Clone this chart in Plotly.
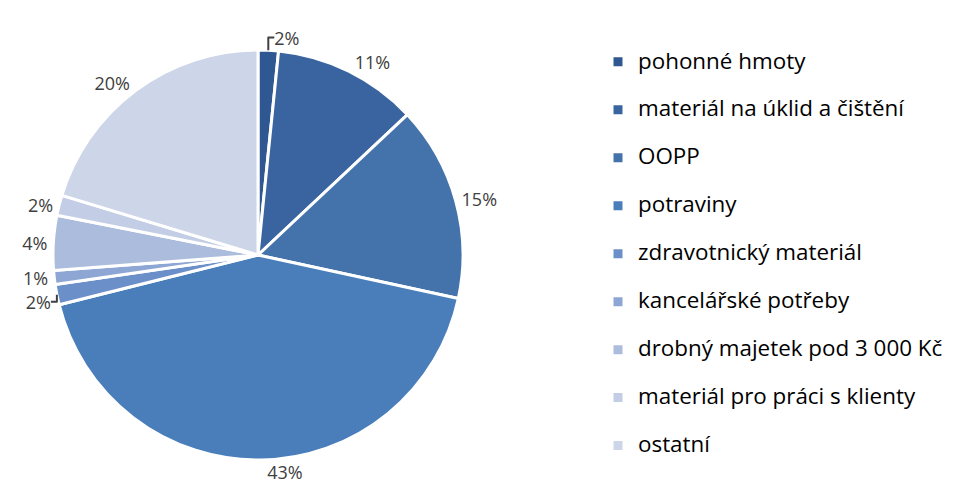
import plotly.graph_objects as go

categories = [
    "pohonné hmoty",
    "materiál na úklid a čištění",
    "OOPP",
    "potraviny",
    "zdravotnický materiál",
    "kancelářské potřeby",
    "drobný majetek pod 3 000 Kč",
    "materiál pro práci s klienty",
    "ostatní",
]
values = [1.6, 11.4, 15.4, 42.7, 1.6, 1.1, 4.3, 1.6, 20.3]
colors = ["#2F5791", "#3A64A0", "#4472AA", "#4A7EBB", "#6B8FC8",
          "#8DA6D4", "#ABBCDD", "#C3CDE5", "#CDD5E8"]

legend_labels = ['<span style="font-size:22.4px">' + c + "</span><br>&nbsp;"
                 for c in categories]

W, H = 957, 494
cx, cy, r = 250, 247, 205

fig = go.Figure(go.Pie(
    labels=legend_labels,
    values=values,
    sort=False,
    direction="clockwise",
    rotation=0,
    marker=dict(colors=colors, line=dict(color="white", width=3)),
    textposition="outside",
    texttemplate="%{percent:.0%}",
    textfont=dict(family="Open Sans, sans-serif", size=18, color="#404040"),
    domain=dict(x=[(cx - r) / W, (cx + r) / W],
                y=[(H - cy - r) / H, (H - cy + r) / H]),
    hovertemplate="%{label}: %{value}<extra></extra>",
))

fig.update_layout(
    width=W, height=H,
    margin=dict(l=0, r=0, t=0, b=0),
    paper_bgcolor="white",
    plot_bgcolor="white",
    showlegend=True,
    legend=dict(
        x=590 / W, xanchor="left",
        y=1 - 36 / H, yanchor="top",
        valign="top",
        font=dict(family="Open Sans, sans-serif", size=17.3, color="#000000"),
        bgcolor="rgba(0,0,0,0)",
    ),
)

fig.write_html("out.html")
